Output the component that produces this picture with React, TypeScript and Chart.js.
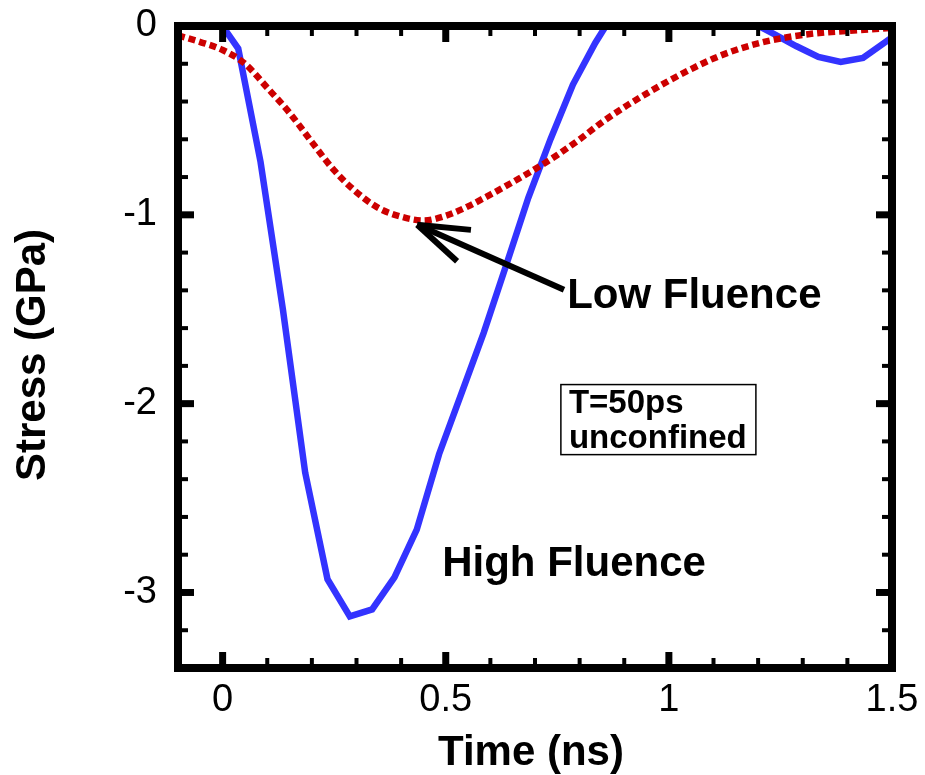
import React, { useEffect, useRef } from "react";
import { Chart, registerables } from "chart.js";

Chart.register(...registerables);

// High fluence (blue, solid)
const highFluenceTime = [
  -0.015, 0.035, 0.085, 0.135, 0.185, 0.235, 0.285, 0.335, 0.385, 0.435,
  0.485, 0.535, 0.585, 0.635, 0.685, 0.735, 0.785, 0.835, 0.885, 0.935,
  0.985, 1.035, 1.085, 1.135, 1.185, 1.235, 1.285, 1.335, 1.385, 1.435,
  1.485, 1.535,
];
const highFluenceStress = [
  0.05, -0.12, -0.72, -1.5, -2.365, -2.93, -3.127, -3.09, -2.92, -2.667,
  -2.268, -1.947, -1.625, -1.27, -0.91, -0.598, -0.31, -0.09, 0.1, 0.2,
  0.25, 0.25, 0.18, 0.08, 0.02, -0.042, -0.106, -0.164, -0.19, -0.169,
  -0.085, 0.0,
];

// Low fluence (red, dotted)
const lowFluenceTime = [
  -0.1, -0.05, 0.0, 0.05, 0.1, 0.15, 0.2, 0.25, 0.3, 0.35, 0.4, 0.45, 0.5,
  0.55, 0.6, 0.65, 0.7, 0.75, 0.8, 0.85, 0.9, 0.95, 1.0, 1.05, 1.1, 1.15,
  1.2, 1.25, 1.3, 1.35, 1.4, 1.45, 1.5,
];
const lowFluenceStress = [
  -0.05, -0.085, -0.127, -0.2, -0.327, -0.46, -0.615, -0.765, -0.88, -0.965,
  -1.01, -1.03, -1.005, -0.955, -0.893, -0.827, -0.758, -0.683, -0.6,
  -0.51, -0.43, -0.358, -0.29, -0.228, -0.172, -0.127, -0.092, -0.066,
  -0.047, -0.034, -0.026, -0.018, -0.01,
];

const xMajorTicks = [0, 0.5, 1, 1.5];
const xMinorTicks = [0.1, 0.2, 0.3, 0.4, 0.6, 0.7, 0.8, 0.9, 1.1, 1.2, 1.3, 1.4];
const yMajorTicks = [0, -1, -2, -3];
const yMinorTicks = [-0.2, -0.4, -0.6, -0.8, -1.2, -1.4, -1.6, -1.8, -2.2, -2.4, -2.6, -2.8, -3.2];

const X_MIN = -0.1;
const X_MAX = 1.5;
const Y_MIN = -3.4;
const Y_MAX = 0;

const FONT = '"Liberation Sans", Arial, Helvetica, sans-serif';

const decorPlugin = {
  id: "decor",
  afterDatasetsDraw(chart: any) {
    const { ctx, chartArea: a, scales } = chart;
    const xs = scales.x;
    const ys = scales.y;
    const X = (v: number) => xs.getPixelForValue(v);
    const Y = (v: number) => ys.getPixelForValue(v);
    ctx.save();
    ctx.strokeStyle = "#000";
    ctx.fillStyle = "#000";
    ctx.lineCap = "butt";
    const seg = (x1: number, y1: number, x2: number, y2: number, w: number) => {
      ctx.lineWidth = w;
      ctx.beginPath();
      ctx.moveTo(x1, y1);
      ctx.lineTo(x2, y2);
      ctx.stroke();
    };
    const tickX = (v: number, len: number, w: number) => {
      const p = X(v);
      seg(p, a.bottom, p, a.bottom - len, w);
      seg(p, a.top, p, a.top + len, w);
    };
    const tickY = (v: number, len: number, w: number) => {
      const p = Y(v);
      seg(a.left, p, a.left + len, p, w);
      seg(a.right, p, a.right - len, p, w);
    };
    xMinorTicks.forEach((v) => tickX(v, 10, 4));
    xMajorTicks.forEach((v) => tickX(v, 16, 7));
    yMinorTicks.forEach((v) => tickY(v, 10, 4));
    yMajorTicks.forEach((v) => tickY(v, 16, 7));

    ctx.lineWidth = 8;
    ctx.lineJoin = "miter";
    ctx.strokeRect(a.left, a.top, a.right - a.left, a.bottom - a.top);

    // arrow pointing at the low-fluence minimum
    const tipX = X(0.436);
    const tipY = Y(-1.053);
    const tailX = X(0.765);
    const tailY = Y(-1.397);
    ctx.lineWidth = 6;
    ctx.beginPath();
    ctx.moveTo(tailX, tailY);
    ctx.lineTo(tipX, tipY);
    ctx.stroke();
    const ang = Math.atan2(tailY - tipY, tailX - tipX);
    const headLen = 54;
    const spread = (18.5 * Math.PI) / 180;
    [ang - spread, ang + spread].forEach((t) => {
      ctx.beginPath();
      ctx.moveTo(tipX, tipY);
      ctx.lineTo(tipX + headLen * Math.cos(t), tipY + headLen * Math.sin(t));
      ctx.stroke();
    });

    ctx.textAlign = "left";
    ctx.textBaseline = "alphabetic";
    ctx.font = `bold 42px ${FONT}`;
    ctx.fillText("Low Fluence", X(0.772), Y(-1.492));
    ctx.fillText("High Fluence", X(0.492), Y(-2.915));

    ctx.lineWidth = 1.5;
    const bx1 = X(0.758);
    const by1 = Y(-1.899);
    const bx2 = X(1.195);
    const by2 = Y(-2.27);
    ctx.strokeRect(bx1, by1, bx2 - bx1, by2 - by1);
    ctx.font = `bold 33px ${FONT}`;
    ctx.fillText("T=50ps", X(0.776), Y(-2.05));
    ctx.fillText("unconfined", X(0.776), Y(-2.235));

    ctx.font = `bold 42px ${FONT}`;
    ctx.textAlign = "center";
    ctx.fillText("Time (ns)", 531, 765);
    ctx.save();
    ctx.translate(45, 355);
    ctx.rotate(-Math.PI / 2);
    ctx.fillText("Stress (GPa)", 0, 0);
    ctx.restore();

    ctx.restore();
  },
};

const zeroPadding = (s: any) => {
  s.paddingTop = 0;
  s.paddingBottom = 0;
  s.paddingLeft = 0;
  s.paddingRight = 0;
};

export default function App() {
  const canvasRef = useRef<HTMLCanvasElement | null>(null);

  useEffect(() => {
    document.body.style.margin = "0";
    const canvas = canvasRef.current;
    if (!canvas) return;
    const chart = new Chart(canvas, {
      type: "line",
      data: {
        datasets: [
          {
            label: "Low Fluence",
            data: lowFluenceTime.map((t, i) => ({ x: t, y: lowFluenceStress[i] })),
            borderColor: "#cc0000",
            borderWidth: 6.5,
            borderDash: [7, 4],
            borderCapStyle: "butt",
            pointRadius: 0,
            fill: false,
            cubicInterpolationMode: "monotone",
          },
          {
            label: "High Fluence",
            data: highFluenceTime.map((t, i) => ({ x: t, y: highFluenceStress[i] })),
            borderColor: "#3333ff",
            borderWidth: 6.5,
            pointRadius: 0,
            fill: false,
            tension: 0,
            borderJoinStyle: "miter",
          },
        ],
      },
      options: {
        responsive: false,
        animation: false,
        events: [],
        layout: { padding: { left: 0, top: 26, right: 33, bottom: 0 } },
        plugins: {
          legend: { display: false },
          tooltip: { enabled: false },
        },
        scales: {
          x: {
            type: "linear",
            min: X_MIN,
            max: X_MAX,
            grid: { display: false, drawTicks: false },
            border: { display: false },
            afterBuildTicks: (s: any) => {
              s.ticks = xMajorTicks.map((v) => ({ value: v }));
            },
            afterFit: (s: any) => {
              s.height = 107;
              zeroPadding(s);
            },
            ticks: {
              color: "#000",
              padding: 14,
              maxRotation: 0,
              autoSkip: false,
              font: { family: FONT, size: 38, lineHeight: 1 },
              callback: (v: any) => String(v),
            },
          },
          y: {
            type: "linear",
            min: Y_MIN,
            max: Y_MAX,
            grid: { display: false, drawTicks: false },
            border: { display: false },
            afterBuildTicks: (s: any) => {
              s.ticks = yMajorTicks.map((v) => ({ value: v }));
            },
            afterFit: (s: any) => {
              s.width = 178;
              zeroPadding(s);
            },
            ticks: {
              color: "#000",
              padding: 21,
              autoSkip: false,
              font: { family: FONT, size: 38, lineHeight: 1 },
              callback: (v: any) => String(v),
            },
          },
        },
      },
      plugins: [decorPlugin],
    });
    return () => chart.destroy();
  }, []);

  return (
    <div style={{ width: 925, height: 775, background: "#fff" }}>
      <canvas ref={canvasRef} width={925} height={775} />
    </div>
  );
}
